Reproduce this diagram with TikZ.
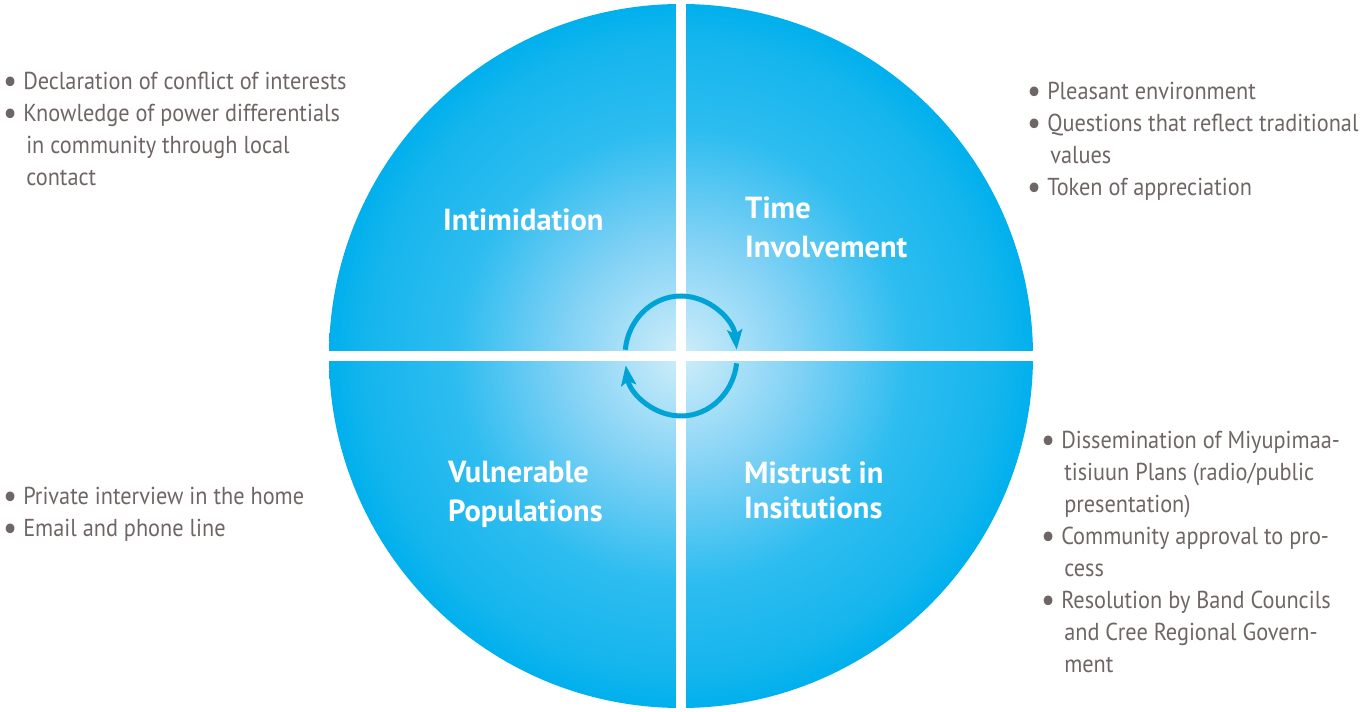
\documentclass[tikz,border=0pt]{standalone}
\usepackage{fontspec}
\usepackage{graphicx}
\setmainfont[FakeStretch=0.91]{PT Sans}
\newfontfamily\labelfont[FakeStretch=1.0]{PT Sans}
\usepackage{tikz}
\usetikzlibrary{positioning,calc,arrows.meta}
\definecolor{listgray}{RGB}{110,102,100}
\definecolor{cyclecol}{RGB}{0,163,214}
\pgfdeclareradialshading{wheelshade}{\pgfpoint{0bp}{0bp}}{%
  rgb(0bp)=(0.81,0.93,0.98);
  rgb(8.5bp)=(0.50,0.82,0.96);
  rgb(16bp)=(0.18,0.74,0.94);
  rgb(22.5bp)=(0.08,0.71,0.93);
  rgb(25bp)=(0,0.69,0.93);
  rgb(50bp)=(0,0.69,0.93)}
\tikzstyle{bullets}=[anchor=north west,inner sep=0pt,align=left,text=listgray,font=\fontsize{24.5}{32}\selectfont]
\tikzstyle{quadlabel}=[anchor=north west,inner sep=0pt,align=left,text=white,font=\fontsize{30.5}{39}\selectfont\labelfont\bfseries]
\tikzstyle{cyclepath}=[cyclecol,line width=5pt,-{Stealth[length=20pt,width=15pt,inset=4pt]}]
\newcommand{\listdot}{\raisebox{-2.5pt}{\scalebox{1.4}{\textbullet}}\ }
\newcommand{\hangind}{\phantom{\listdot}\hspace{3pt}}

\begin{document}
\begin{tikzpicture}[x=1pt,y=1pt]
                \useasboundingbox (0,0) rectangle (1360,712);
                \coordinate (hub) at (681,356);

                % the wheel and its white cross
                \shade[shading=wheelshade] (hub) circle (352);
                \fill[white] (676,0) rectangle (686,712);
                \fill[white] (329,351) rectangle (1034,361);

                % cycle arrows
                \draw[cyclepath] ($(hub)+(174:56 and 60)$) arc[start angle=174,end angle=6,x radius=56,y radius=60];
                \draw[cyclepath] ($(hub)+(-7:56 and 60)$) arc[start angle=-7,end angle=-171,x radius=56,y radius=60];

                % quadrant labels
                \node[quadlabel] (intim) at (443,503) {Intimidation};
                \node[quadlabel] (timeinv) at (745,515) {Time\\Involvement};
                \node[quadlabel] (vulpop) at (448,251) {Vulnerable\\Populations};
                \node[quadlabel] (mistrust) at (744,250) {Mistrust in\\[-4pt]Insitutions};

                % measures for each barrier
                \node[bullets] (intimlist) at (3,640) {\listdot Declaration of conflict of interests\\
                        \listdot Knowledge of power differentials\\
                        \hangind in community through local\\
                        \hangind contact};
                \node[bullets] (timelist) at (1027,630) {\listdot Pleasant environment\\
                        \listdot Questions that reflect traditional\\
                        \hangind values\\
                        \listdot Token of appreciation};
                \node[bullets] (vullist) at (3,225) {\listdot Private interview in the home\\
                        \listdot Email and phone line};
                \node[bullets] (mistlist) at (1041,281) {\listdot Dissemination of Miyupimaa-\\
                        \hangind tisiuun Plans (radio/public\\
                        \hangind presentation)\\
                        \listdot Community approval to pro-\\
                        \hangind cess\\
                        \listdot Resolution by Band Councils\\
                        \hangind and Cree Regional Govern-\\
                        \hangind ment};
\end{tikzpicture}
\end{document}
